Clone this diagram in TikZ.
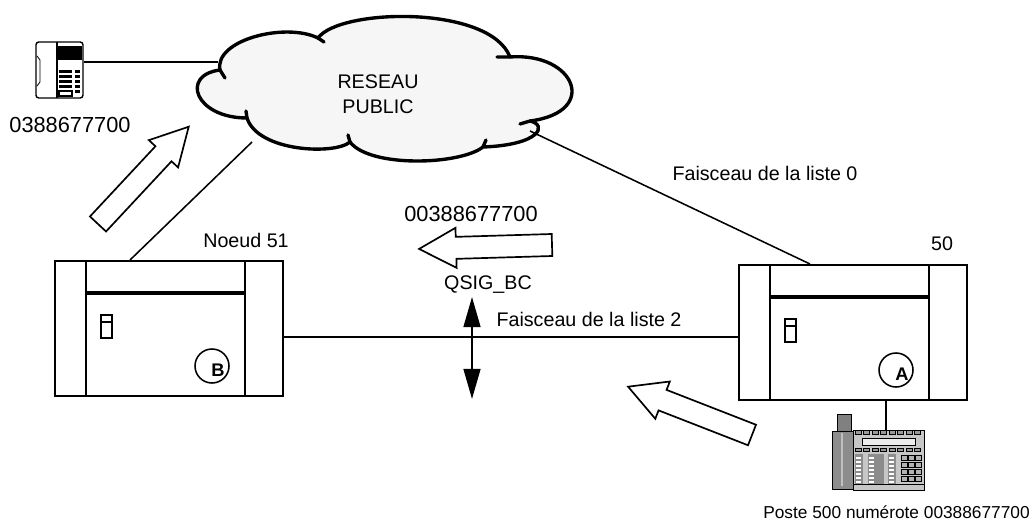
\documentclass[tikz,border=0pt]{standalone}
\usepackage{fontspec}
\setmainfont{Liberation Sans}
\usetikzlibrary{arrows.meta}

\tikzset{
  texte/.style={font=\fontsize{14}{17.6}\selectfont, inner sep=0pt},
  chiffres/.style={texte, font=\fontsize{15.5}{17.6}\selectfont},
  pabx/.style={draw, line width=1.2pt, minimum width=5.7cm, minimum height=3.375cm, anchor=north west, inner sep=0pt},
  fleche/.style={draw, fill=white, line width=1.2pt, line join=miter},
  liaison/.style={line width=1.1pt},
  nuage/.style={line width=2.4pt, line cap=round, line join=round},
}

% grosse fleche creuse : origine, angle
\newcommand{\grossefleche}[2]{%
  \draw[fleche, shift={#1}, rotate=#2] (0,-11) -- (96,-11) -- (96,-20) -- (133,0) -- (96,20) -- (96,11) -- (0,11) -- cycle;}

\begin{document}
\begin{tikzpicture}[x=0.025cm,y=-0.025cm]
\useasboundingbox (0,0) rectangle (1032,531);

% reseau public
\draw[nuage, fill=gray!7] (220,70) .. controls (214,40) and (285,22) .. (318,38)
  .. controls (340,8) and (490,5) .. (510,57)
  .. controls (575,52) and (600,112) .. (530,121)
  .. controls (548,125) and (540,145) .. (483,147)
  .. controls (460,165) and (370,168) .. (350,142)
  .. controls (335,155) and (258,152) .. (247,118)
  .. controls (195,118) and (180,75) .. (220,70) -- cycle;
\draw[nuage] (220,70) -- (225,78) (318,38) -- (324,42) (510,57) -- (497,57)
  (530,121) -- (520,124) (483,147) -- (486,140) (350,142) -- (348,135) (247,118) -- (246,111);
\node[texte, align=center] (reseau) at (378,94) {RESEAU\\PUBLIC};
\coordinate (nuageO) at (218,62);
\coordinate (nuageSO) at (252,142);
\coordinate (nuageSE) at (530,131);

% poste du reseau public
\draw[line width=1pt, rounded corners=2pt] (36,42) rectangle (83,98);
\draw[line width=0.8pt] (57,42) -- (57,98);
\draw[line width=0.6pt] (37,56) -- (40,60) -- (40,82) -- (37,86);
\fill (58,46) rectangle (82,60);
\foreach \r in {70,75,80,85} \fill (59,\r) rectangle (72,\r+3);
\foreach \r in {70,75,80,85,90} \fill (75,\r) rectangle (80,\r+3);
\draw[line width=1pt] (59,91) rectangle (72,96);
\coordinate (posteB) at (84,62);
\node[chiffres] (numB) at (70,125) {0388677700};

% les deux noeuds
\foreach \nom/\x/\y/\lettre in {n51/54/260/B, n50/738/264/A}{
  \node[pabx] (\nom) at (\x,\y) {};
  \begin{scope}[shift={(\x,\y)}]
    \draw[line width=1.2pt] (32,0) -- (32,135) (191,0) -- (191,135);
    \draw[line width=2.8pt] (32,33) -- (191,33);
    \draw[line width=1.6pt] (47,55) rectangle (58,78) (47,62) -- (58,62);
    \draw[line width=1.1pt] (158,106) circle[radius=17];
    \node[font=\bfseries\fontsize{13}{13}\selectfont, inner sep=0pt] (l\lettre) at (164,110) {\lettre};
  \end{scope}
}
\node[texte] (nom51) at (246,240) {Noeud 51};
\node[texte] (nom50) at (942,244) {50};

\coordinate (b51) at (130,260);
\coordinate (h50) at (810,264);
\coordinate (e51) at (282,337);
\coordinate (w50) at (738,337);
\coordinate (s50) at (886,399);
\coordinate (posteA) at (886,430);

\draw[liaison] (posteB) -- (nuageO);
\draw[liaison] (b51) -- (nuageSO);
\draw[liaison] (h50) -- (nuageSE);
\draw[liaison] (e51) -- (w50);
\draw[liaison] (s50) -- (posteA);

\node[texte] (f0) at (765,173) {Faisceau de la liste 0};
\node[texte] (f2) at (589,319) {Faisceau de la liste 2};

% signalisation QSIG
\node[chiffres] (numero) at (471,214) {00388677700};
\node[texte] (qsig) at (488,285) {QSIG\_BC};
\coordinate (qh) at (472,297);
\coordinate (qb) at (472,399);
\draw[line width=1.4pt, {Triangle[length=0.75cm,width=0.42cm]}-{Triangle[length=0.75cm,width=0.42cm]}] (qh) -- (qb);

% sens de l'appel
\grossefleche{(98,224)}{47}
\grossefleche{(552,245)}{181.7}
\grossefleche{(752,435)}{158.7}

% poste 500
\filldraw[fill=black!50, line width=0.6pt] (837,414) rectangle (851,431);
\filldraw[fill=black!45, line width=0.6pt] (832,431) rectangle (853,489);
\draw[black!25, line width=1.2pt] (842,433) -- (842,486);
\filldraw[fill=black!22, line width=0.6pt] (853,430) rectangle (924,490);
\foreach \i in {0,...,7} \filldraw[fill=black!40, line width=0.4pt] (855+8.5*\i,430) rectangle (861+8.5*\i,434);
\filldraw[fill=black!8, line width=0.6pt] (862,438) rectangle (915,445);
\foreach \i in {0,...,7} \filldraw[fill=black!40, line width=0.4pt] (855+8.5*\i,448) rectangle (861+8.5*\i,451);
\foreach \c in {856,869,889} {
  \fill[black!45] (\c-1,454) rectangle (\c+7,484);
  \foreach \r in {457,461,...,481} \fill[white] (\c,\r) rectangle (\c+5,\r+2);
}
\fill[black!45] (876,454) rectangle (884,484);
\foreach \c in {901,908,915} \foreach \r in {455,462,...,480} \filldraw[fill=black!30, line width=0.4pt] (\c,\r) rectangle (\c+6,\r+5);
\draw[line width=0.6pt] (853,484) -- (924,484);
\node[texte, font=\fontsize{12.3}{14}\selectfont, anchor=east] (appel) at (1030,512) {Poste 500 numérote 00388677700};

\end{tikzpicture}
\end{document}
